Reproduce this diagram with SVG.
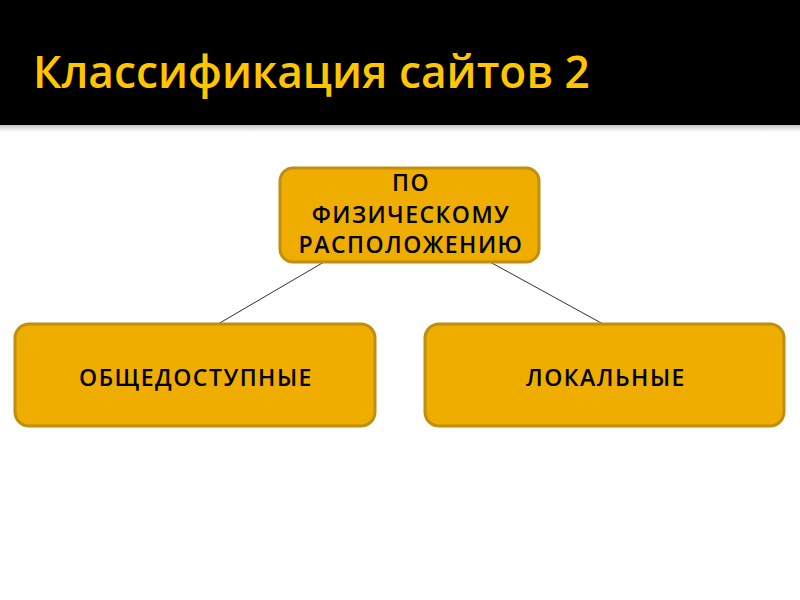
<svg xmlns="http://www.w3.org/2000/svg" width="800" height="600" viewBox="0 0 800 600">
<style>
.box{fill:#EFAD00;stroke:#C08E10;stroke-width:3}
.lbl{font-family:"Open Sans","Noto Sans","DejaVu Sans",sans-serif;font-size:23px;font-weight:600;letter-spacing:1.5px;fill:#000;text-anchor:middle}
.conn{stroke:#303030;stroke-width:1;fill:none}
</style>
<defs>
<linearGradient id="sh" x1="0" y1="0" x2="0" y2="1">
<stop offset="0" stop-color="#bdbdbd"/><stop offset="1" stop-color="#ffffff"/>
</linearGradient>
</defs>
<rect x="0" y="0" width="800" height="600" fill="#ffffff"/>
<rect x="0" y="124" width="800" height="8" fill="url(#sh)"/>
<rect x="0" y="0" width="800" height="125" fill="#000000"/>
<text x="33" y="88" font-family="Open Sans, Noto Sans, sans-serif" font-weight="600" font-size="44.3" fill="#FFC600">Классификация сайтов 2</text>
<g id="connectors">
<line class="conn" x1="324" y1="262" x2="218" y2="324"/>
<line class="conn" x1="490" y1="262" x2="603" y2="324"/>
</g>
<g id="node-top">
<rect class="box" x="280" y="168" width="259" height="94" rx="13"/>
<text class="lbl" x="411" y="191">ПО</text>
<text class="lbl" x="411" y="223">ФИЗИЧЕСКОМУ</text>
<text class="lbl" x="411" y="253">РАСПОЛОЖЕНИЮ</text>
</g>
<g id="node-left">
<rect class="box" x="15" y="324" width="360" height="102" rx="14"/>
<text class="lbl" x="196" y="386">ОБЩЕДОСТУПНЫЕ</text>
</g>
<g id="node-right">
<rect class="box" x="425" y="324" width="359" height="102" rx="14"/>
<text class="lbl" x="606" y="386">ЛОКАЛЬНЫЕ</text>
</g>
</svg>
